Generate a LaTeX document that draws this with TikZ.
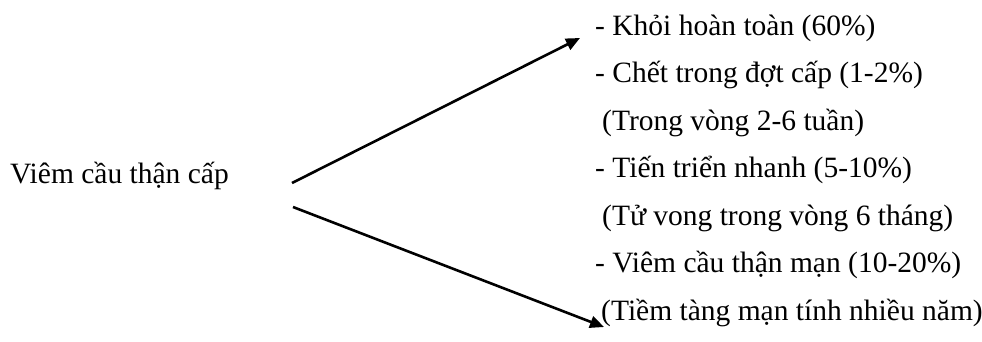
\documentclass[tikz,border=0pt]{standalone}
\usepackage{fontspec}
\setmainfont{Liberation Serif}
\usetikzlibrary{arrows.meta}
\begin{document}
\begin{tikzpicture}[x=1pt,y=-1pt,
  txt/.style={inner sep=0pt,anchor=base west,font=\fontsize{29.5}{35}\selectfont},
  arr/.style={line width=2.6pt,-{Triangle[length=14pt,width=12pt]}}]
\useasboundingbox (0,0) rectangle (982,341);
\node[txt] (src) at (10,183) {Viêm cầu thận cấp};
\node[txt] (l1) at (595,35) {- Khỏi hoàn toàn (60\%)};
\node[txt] (l2) at (595,82.5) {- Chết trong đợt cấp (1-2\%)};
\node[txt] (l3) at (602,130) {(Trong vòng 2-6 tuần)};
\node[txt] (l4) at (595,177.5) {- Tiến triển nhanh (5-10\%)};
\node[txt] (l5) at (602,225) {(Tử vong trong vòng 6 tháng)};
\node[txt] (l6) at (595,272.5) {- Viêm cầu thận mạn (10-20\%)};
\node[txt] (l7) at (601,320) {(Tiềm tàng mạn tính nhiều năm)};
\coordinate (s1) at (292,183);
\coordinate (s2) at (293,207);
\coordinate (e1) at (580,38);
\coordinate (e2) at (604,327);
\draw[arr] (s1) -- (e1);
\draw[arr] (s2) -- (e2);
\end{tikzpicture}
\end{document}
